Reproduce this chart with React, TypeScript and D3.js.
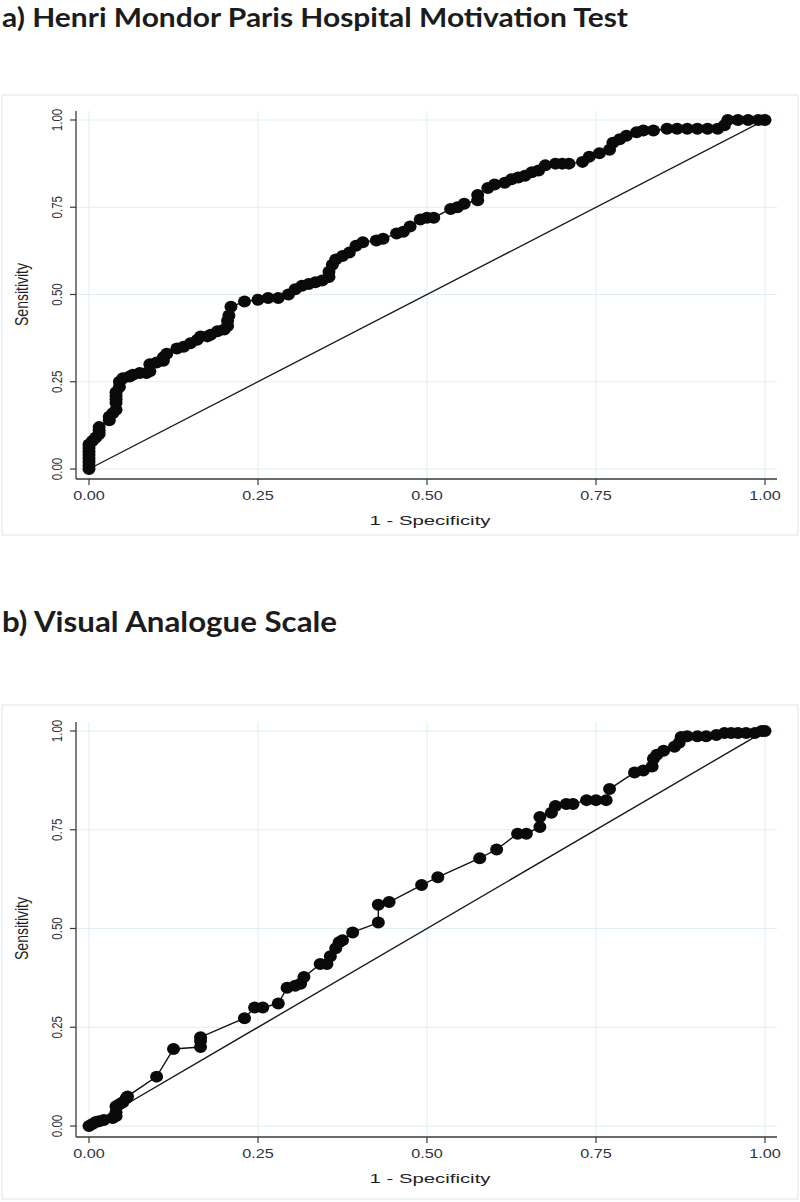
import React from "react";
import * as d3 from "d3";

// Panel a: Henri Mondor Paris Hospital Motivation Test (1 - specificity, sensitivity)
const fprA = [0,0,0,0,0,0,0,0,0.005,0.01,0.015,0.015,0.015,0.03,0.03,0.035,0.04,0.04,0.04,0.04,0.04,0.045,0.045,0.05,0.06,0.065,0.075,0.085,0.09,0.09,0.1,0.11,0.11,0.115,0.13,0.14,0.15,0.16,0.165,0.175,0.18,0.19,0.2,0.205,0.205,0.207,0.21,0.23,0.25,0.265,0.28,0.295,0.305,0.315,0.325,0.335,0.345,0.355,0.355,0.36,0.365,0.375,0.385,0.395,0.405,0.425,0.435,0.455,0.465,0.475,0.49,0.5,0.51,0.535,0.545,0.555,0.575,0.575,0.59,0.6,0.615,0.625,0.635,0.645,0.655,0.665,0.675,0.69,0.7,0.71,0.73,0.74,0.755,0.77,0.775,0.785,0.795,0.81,0.82,0.835,0.855,0.87,0.885,0.9,0.915,0.93,0.94,0.945,0.96,0.975,0.99,1];
const tprA = [0,0.01,0.02,0.03,0.04,0.05,0.06,0.07,0.08,0.09,0.1,0.11,0.12,0.14,0.15,0.16,0.17,0.19,0.2,0.21,0.22,0.235,0.25,0.26,0.265,0.27,0.275,0.275,0.28,0.3,0.305,0.31,0.32,0.33,0.345,0.35,0.36,0.37,0.38,0.38,0.385,0.395,0.4,0.41,0.425,0.44,0.465,0.48,0.485,0.49,0.49,0.5,0.515,0.525,0.53,0.535,0.54,0.55,0.565,0.585,0.6,0.61,0.62,0.64,0.65,0.655,0.66,0.675,0.68,0.695,0.715,0.72,0.72,0.745,0.75,0.76,0.77,0.785,0.805,0.815,0.82,0.83,0.835,0.84,0.85,0.855,0.87,0.875,0.875,0.875,0.88,0.895,0.905,0.915,0.935,0.945,0.955,0.965,0.97,0.97,0.975,0.975,0.975,0.975,0.975,0.975,0.985,1,1,1,1,1];

// Panel b: Visual Analogue Scale
const fprB = [0,0.005,0.01,0.015,0.022,0.035,0.04,0.04,0.04,0.045,0.05,0.055,0.057,0.1,0.125,0.165,0.165,0.165,0.23,0.245,0.257,0.28,0.293,0.305,0.313,0.318,0.342,0.352,0.357,0.365,0.37,0.375,0.39,0.428,0.428,0.444,0.492,0.516,0.578,0.603,0.634,0.647,0.667,0.667,0.684,0.69,0.706,0.716,0.736,0.75,0.765,0.77,0.807,0.82,0.833,0.835,0.84,0.85,0.866,0.873,0.876,0.885,0.9,0.913,0.928,0.94,0.95,0.96,0.972,0.985,0.995,1];
const tprB = [0,0.005,0.01,0.012,0.015,0.02,0.025,0.035,0.05,0.055,0.06,0.07,0.075,0.125,0.195,0.2,0.215,0.225,0.273,0.3,0.3,0.31,0.35,0.355,0.36,0.377,0.41,0.41,0.43,0.45,0.465,0.47,0.49,0.515,0.56,0.567,0.61,0.63,0.678,0.7,0.74,0.74,0.757,0.782,0.793,0.81,0.815,0.815,0.825,0.825,0.825,0.853,0.895,0.9,0.91,0.93,0.94,0.95,0.96,0.97,0.985,0.987,0.987,0.987,0.99,0.995,0.995,0.995,0.995,0.995,1,1];

const tickValues = [0, 0.25, 0.5, 0.75, 1];
const tickLabels = ["0.00", "0.25", "0.50", "0.75", "1.00"];
const titleA = "a) Henri Mondor Paris Hospital Motivation Test";
const titleB = "b) Visual Analogue Scale";
const xTitle = "1 - Specificity";
const yTitle = "Sensitivity";

const SX = 1.3;
const AXIS_FONT = "'Liberation Sans', Arial, sans-serif";
const LABEL_COLOR = "#30323c";
const GRID = "#e0eef4";

type PanelProps = {
  fpr: number[];
  tpr: number[];
  frameTop: number;
  frameBottom: number;
  yPix1: number;
  yPix0: number;
  axisY: number;
  axisTop: number;
};

function Panel(p: PanelProps) {
  const x = d3.scaleLinear().domain([0, 1]).range([89, 765]);
  const y = d3.scaleLinear().domain([0, 1]).range([p.yPix0, p.yPix1]);
  const pts: [number, number][] = p.fpr.map((f, i) => [f, p.tpr[i]]);
  const line = d3
    .line<[number, number]>()
    .x((d) => x(d[0]))
    .y((d) => y(d[1]));
  const axisX = 76;
  const gridRight = 777;
  const midY = (p.yPix0 + p.yPix1) / 2;
  return (
    <g>
      <rect
        x={2}
        y={p.frameTop}
        width={796}
        height={p.frameBottom - p.frameTop}
        fill="#ffffff"
        stroke="#e7eef3"
        strokeWidth={1.5}
      />
      {tickValues.map((t, i) => (
        <line
          key={"gh" + i}
          x1={axisX}
          x2={gridRight}
          y1={y(t)}
          y2={y(t)}
          stroke={GRID}
          strokeWidth={1}
        />
      ))}
      {tickValues.map((t, i) => (
        <line
          key={"gv" + i}
          x1={x(t)}
          x2={x(t)}
          y1={p.axisTop}
          y2={p.axisY}
          stroke={GRID}
          strokeWidth={1}
        />
      ))}
      {/* axes */}
      <line x1={axisX} x2={axisX} y1={p.axisTop} y2={p.axisY} stroke="#3a3a3a" strokeWidth={1.3} />
      <line x1={axisX} x2={gridRight} y1={p.axisY} y2={p.axisY} stroke="#3a3a3a" strokeWidth={1.3} />
      {tickValues.map((t, i) => (
        <line key={"ty" + i} x1={axisX - 6} x2={axisX} y1={y(t)} y2={y(t)} stroke="#3a3a3a" strokeWidth={1.2} />
      ))}
      {tickValues.map((t, i) => (
        <line key={"tx" + i} x1={x(t)} x2={x(t)} y1={p.axisY} y2={p.axisY + 6} stroke="#3a3a3a" strokeWidth={1.2} />
      ))}
      {tickValues.map((t, i) => (
        <g key={"lx" + i} transform={`translate(${x(t)},${p.axisY + 21}) scale(${SX},1)`}>
          <text textAnchor="middle" fontFamily={AXIS_FONT} fontSize={12.5} fill={LABEL_COLOR}>
            {tickLabels[i]}
          </text>
        </g>
      ))}
      {tickValues.map((t, i) => (
        <g key={"ly" + i} transform={`translate(62,${y(t)}) scale(${SX},1) rotate(-90)`}>
          <text textAnchor="middle" fontFamily={AXIS_FONT} fontSize={11.5} fill={LABEL_COLOR}>
            {tickLabels[i]}
          </text>
        </g>
      ))}
      <g transform={`translate(430,${p.axisY + 46}) scale(${SX},1)`}>
        <text
          textAnchor="middle"
          fontFamily={AXIS_FONT}
          fontSize={13.5}
          fill="#1e1e24"
          textLength={93}
          lengthAdjust="spacingAndGlyphs"
        >
          {xTitle}
        </text>
      </g>
      <g transform={`translate(28,${midY}) scale(${SX},1) rotate(-90)`}>
        <text textAnchor="middle" fontFamily={AXIS_FONT} fontSize={14} fill="#1e1e24">
          {yTitle}
        </text>
      </g>
      {/* reference diagonal */}
      <line x1={x(0)} y1={y(0)} x2={x(1)} y2={y(1)} stroke="#1a1a1a" strokeWidth={1.4} />
      {/* ROC curve */}
      <path d={line(pts) || ""} fill="none" stroke="#111" strokeWidth={1.4} />
      {pts.map((d, i) => (
        <ellipse key={"p" + i} cx={x(d[0])} cy={y(d[1])} rx={6.5} ry={6} fill="#0a0a0a" />
      ))}
    </g>
  );
}

export default function App() {
  return (
    <svg
      width={800}
      height={1202}
      style={{ position: "absolute", left: 0, top: 0, background: "#fff" }}
    >
      <rect x={0} y={0} width={800} height={1202} fill="#fff" />
      <text
        x={2}
        y={27}
        fontFamily="Lato, 'Open Sans', sans-serif"
        fontWeight={700}
        fontSize={27}
        fill="#1c1c1c"
        textLength={626}
        lengthAdjust="spacingAndGlyphs"
      >
        {titleA}
      </text>
      <Panel fpr={fprA} tpr={tprA} frameTop={95} frameBottom={535} yPix1={120} yPix0={469} axisY={479} axisTop={111} />
      <text
        x={2}
        y={632}
        fontFamily="Lato, 'Open Sans', sans-serif"
        fontWeight={700}
        fontSize={28}
        fill="#1c1c1c"
        textLength={335}
        lengthAdjust="spacingAndGlyphs"
      >
        {titleB}
      </text>
      <Panel fpr={fprB} tpr={tprB} frameTop={705} frameBottom={1199} yPix1={731} yPix0={1126} axisY={1137} axisTop={722} />
    </svg>
  );
}
